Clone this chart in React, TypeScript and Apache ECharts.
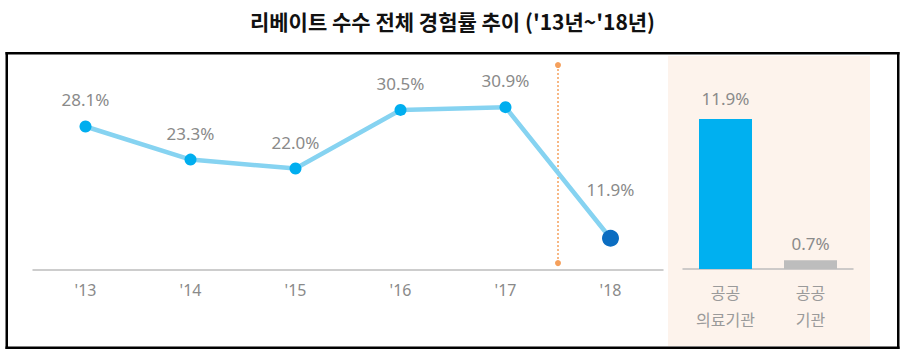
import React, { useEffect, useRef } from "react";
import * as echarts from "echarts";

const TITLE = "리베이트 수수 전체 경험률 추이 ('13년~'18년)";
const years = ["'13", "'14", "'15", "'16", "'17", "'18"];
const rates = [28.1, 23.3, 22.0, 30.5, 30.9, 11.9];
const barCats = ["공공\n의료기관", "공공\n기관"];
const barValues = [11.9, 0.7];
const dividerPos = 4.5;
const dividerRange = [8.3, 37.0];

export default function App() {
  const ref = useRef<HTMLDivElement>(null);
  useEffect(() => {
    if (!ref.current) return;
    const chart = echarts.init(ref.current, undefined, { renderer: "svg" });
    const font = "'Noto Sans', 'Noto Sans CJK KR', sans-serif";
    const gray = "#8a8a8a";
    const bar = (x: number, y: number, w: number, h: number) => ({
      type: "rect",
      z: 10,
      silent: true,
      shape: { x, y, width: w, height: h },
      style: { fill: "#000" },
    });
    const option: any = {
      animation: false,
      backgroundColor: "#ffffff",
      textStyle: { fontFamily: font },
      title: {
        text: TITLE,
        left: "center",
        top: 5,
        textStyle: {
          fontFamily: "'Noto Sans CJK KR', sans-serif",
          fontSize: 21,
          fontWeight: "bold",
          color: "#111",
        },
      },
      graphic: [
        {
          type: "rect",
          z: -10,
          shape: { x: 668, y: 56, width: 202, height: 290 },
          style: { fill: "#fdf3ec" },
          silent: true,
        },
        bar(5.5, 52, 894, 2.5),
        bar(5.5, 346.5, 894, 2.5),
        bar(5.5, 52, 2.5, 297),
        bar(897, 52, 2.5, 297),
      ],
      grid: [
        { left: 33, width: 630, top: 63, bottom: 86 },
        { left: 683, width: 170, top: 80, bottom: 87 },
      ],
      xAxis: [
        {
          type: "category",
          gridIndex: 0,
          data: years,
          boundaryGap: true,
          axisLine: { lineStyle: { color: "#bdbdbd", width: 1.5 } },
          axisTick: { alignWithLabel: true, inside: true, length: 4, lineStyle: { color: "#bdbdbd" } },
          axisLabel: { color: gray, fontSize: 16, margin: 12, fontFamily: font },
        },
        {
          type: "value",
          gridIndex: 0,
          min: -0.5,
          max: 5.5,
          show: false,
        },
        {
          type: "category",
          gridIndex: 1,
          data: barCats,
          axisLine: { lineStyle: { color: "#bdbdbd", width: 1.5 } },
          axisTick: { show: false },
          axisLabel: {
            color: "#9a9a9a",
            fontSize: 16,
            lineHeight: 27,
            margin: 9,
            fontFamily: "'Noto Sans CJK KR', sans-serif",
          },
        },
      ],
      yAxis: [
        { type: "value", gridIndex: 0, min: 7.3, max: 37.3, show: false },
        { type: "value", gridIndex: 1, min: 0, max: 15, show: false },
      ],
      series: [
        {
          type: "line",
          xAxisIndex: 0,
          yAxisIndex: 0,
          data: rates.map((v, i) =>
            i === rates.length - 1
              ? {
                  value: v,
                  symbolSize: 17,
                  itemStyle: { color: "#0b6dc1" },
                  label: { distance: 32 },
                }
              : { value: v }
          ),
          symbol: "circle",
          symbolSize: 12,
          itemStyle: { color: "#00aeef" },
          lineStyle: { color: "#86d3f1", width: 4.5 },
          label: {
            show: true,
            position: "top",
            distance: 12,
            color: gray,
            fontSize: 17,
            fontFamily: font,
            formatter: (p: any) => p.value.toFixed(1) + "%",
          },
          z: 3,
        },
        {
          type: "line",
          xAxisIndex: 1,
          yAxisIndex: 0,
          data: dividerRange.map((v) => [dividerPos, v]),
          symbol: "circle",
          symbolSize: 6,
          itemStyle: { color: "#f5a05c" },
          lineStyle: { color: "#f5a05c", width: 1.5, type: [2, 2] },
          silent: true,
          z: 2,
        },
        {
          type: "bar",
          xAxisIndex: 2,
          yAxisIndex: 1,
          barWidth: 53,
          data: barValues.map((v, i) => ({
            value: v,
            itemStyle: { color: i === 0 ? "#00b0f0" : "#bdbdbd" },
            label: { distance: i === 0 ? 12 : 8 },
          })),
          label: {
            show: true,
            position: "top",
            color: gray,
            fontSize: 17,
            fontFamily: font,
            formatter: (p: any) => p.value.toFixed(1) + "%",
          },
        },
      ],
    };
    chart.setOption(option);
    return () => chart.dispose();
  }, []);
  return (
    <div
      ref={ref}
      style={{ position: "absolute", left: 0, top: 0, width: 905, height: 356 }}
    />
  );
}
